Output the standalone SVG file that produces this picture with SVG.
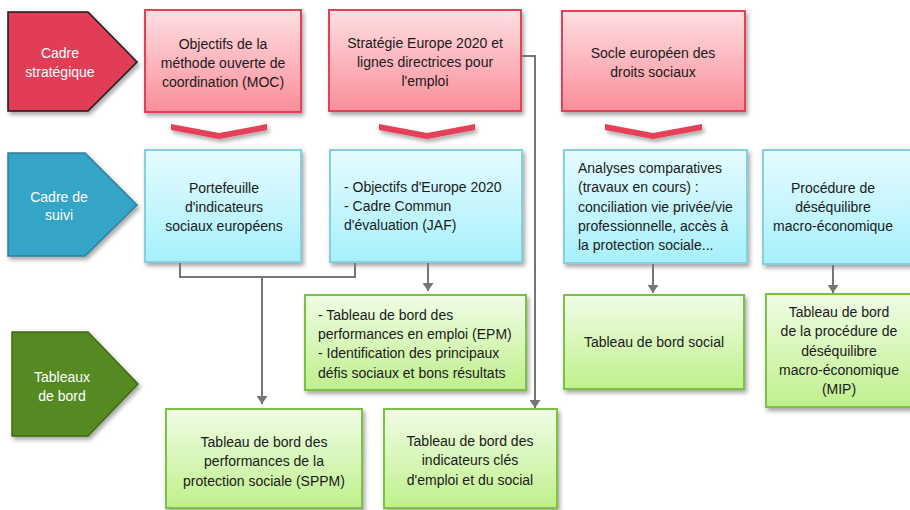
<svg xmlns="http://www.w3.org/2000/svg" width="910" height="510" viewBox="0 0 910 510">
<defs>
<linearGradient id="gRed" x1="0" y1="0" x2="0" y2="1"><stop offset="0" stop-color="#fedfe2"/><stop offset="1" stop-color="#f98e99"/></linearGradient>
<linearGradient id="gBlue" x1="0" y1="0" x2="0" y2="1"><stop offset="0" stop-color="#e6fcff"/><stop offset="1" stop-color="#a6f0fb"/></linearGradient>
<linearGradient id="gGreen" x1="0" y1="0" x2="0" y2="1"><stop offset="0" stop-color="#f0fde6"/><stop offset="1" stop-color="#bff08c"/></linearGradient>
<filter id="sh" x="-10%" y="-10%" width="130%" height="140%"><feDropShadow dx="2" dy="3" stdDeviation="2" flood-color="#000" flood-opacity="0.35"/></filter>
<marker id="arr" viewBox="0 0 8 11" refX="8" refY="5.5" markerWidth="8" markerHeight="11" markerUnits="userSpaceOnUse" orient="auto"><path d="M0,0 L8,5.5 L0,11 Z" fill="#767676"/></marker>
<style>
text{font-family:"Liberation Sans",Arial,sans-serif;font-size:14px;fill:#1a1a1a}
.c{text-anchor:middle}
.w{fill:#ffffff}
.red{fill:url(#gRed);stroke:#e63f58;stroke-width:2;filter:url(#sh)}
.blue{fill:url(#gBlue);stroke:#86cfe0;stroke-width:2;filter:url(#sh)}
.green{fill:url(#gGreen);stroke:#7cc242;stroke-width:2;filter:url(#sh)}
.chev{fill:#e63f58;filter:url(#sh)}
.con{fill:none;stroke:#767676;stroke-width:2}
</style>
</defs>

<g id="label-strategique">
<polygon points="8,12 88,12 137,62 88,111 8,111" fill="#e23c56" stroke="#1a1a1a" stroke-width="1.5" filter="url(#sh)"/>
<text class="c w" x="60" y="58">Cadre</text>
<text class="c w" x="60" y="77">stratégique</text>
</g>
<g id="label-suivi">
<polygon points="8,153 85,153 137,205 85,256 8,256" fill="#36a5c7" stroke="#2b7f99" stroke-width="1.5" filter="url(#sh)"/>
<text class="c w" x="59" y="202">Cadre de</text>
<text class="c w" x="59" y="220">suivi</text>
</g>
<g id="label-tableaux">
<polygon points="12,332 88,332 138,384 88,436 12,436" fill="#558a21" stroke="#3d6a13" stroke-width="1.5" filter="url(#sh)"/>
<text class="c w" x="62" y="382">Tableaux</text>
<text class="c w" x="62" y="401">de bord</text>
</g>

<g id="moc">
<rect class="red" x="145" y="10" width="156" height="102"/>
<text class="c" x="223" y="49">Objectifs de la</text>
<text class="c" x="223" y="68">méthode ouverte de</text>
<text class="c" x="223" y="87">coordination (MOC)</text>
</g>
<g id="europe2020">
<rect class="red" x="329" y="10" width="192" height="101"/>
<text class="c" x="425" y="48">Stratégie Europe 2020 et</text>
<text class="c" x="425" y="67">lignes directrices pour</text>
<text class="c" x="425" y="86">l'emploi</text>
</g>
<g id="socle">
<rect class="red" x="562" y="11" width="183" height="100"/>
<text class="c" x="653" y="58">Socle européen des</text>
<text class="c" x="653" y="77">droits sociaux</text>
</g>

<g id="chevrons">
<polygon class="chev" points="171,124 219,133 267,124 267,130 219,139 171,130"/>
<polygon class="chev" points="379,124 427,133 475,124 475,130 427,139 379,130"/>
<polygon class="chev" points="605,124 653,133 702,124 702,130 653,139 605,130"/>
</g>

<g id="portefeuille">
<rect class="blue" x="145" y="150" width="156" height="112"/>
<text class="c" x="224" y="193">Portefeuille</text>
<text class="c" x="224" y="212">d'indicateurs</text>
<text class="c" x="224" y="231">sociaux européens</text>
</g>
<g id="jaf">
<rect class="blue" x="330" y="150" width="192" height="112"/>
<text x="344" y="192">- Objectifs d'Europe 2020</text>
<text x="344" y="211">- Cadre Commun</text>
<text x="344" y="230">d'évaluation (JAF)</text>
</g>
<g id="analyses">
<rect class="blue" x="564" y="150" width="183" height="113"/>
<text x="578" y="173">Analyses comparatives</text>
<text x="578" y="192">(travaux en cours) :</text>
<text x="578" y="212">conciliation vie privée/vie</text>
<text x="578" y="231">professionnelle, accès à</text>
<text x="578" y="250">la protection sociale...</text>
</g>
<g id="procedure">
<rect class="blue" x="763" y="150" width="155" height="114"/>
<text class="c" x="833" y="193">Procédure de</text>
<text class="c" x="833" y="212">déséquilibre</text>
<text class="c" x="833" y="231">macro-économique</text>
</g>

<g id="epm">
<rect class="green" x="305" y="295" width="221" height="95"/>
<text x="318" y="320">- Tableau de bord des</text>
<text x="318" y="339">performances en emploi (EPM)</text>
<text x="318" y="358">- Identification des principaux</text>
<text x="318" y="378">défis sociaux et bons résultats</text>
</g>
<g id="social">
<rect class="green" x="564" y="295" width="180" height="94"/>
<text class="c" x="654" y="347">Tableau de bord social</text>
</g>
<g id="mip">
<rect class="green" x="766" y="294" width="152" height="113"/>
<text class="c" x="839" y="317">Tableau de bord</text>
<text class="c" x="839" y="336">de la procédure de</text>
<text class="c" x="839" y="356">déséquilibre</text>
<text class="c" x="839" y="375">macro-économique</text>
<text class="c" x="839" y="394">(MIP)</text>
</g>
<g id="sppm">
<rect class="green" x="166" y="409" width="196" height="99"/>
<text class="c" x="264" y="447">Tableau de bord des</text>
<text class="c" x="264" y="466">performances de la</text>
<text class="c" x="264" y="486">protection sociale (SPPM)</text>
</g>
<g id="cles">
<rect class="green" x="384" y="409" width="173" height="99"/>
<text class="c" x="470" y="446">Tableau de bord des</text>
<text class="c" x="470" y="465">indicateurs clés</text>
<text class="c" x="470" y="485">d'emploi et du social</text>
</g>

<g id="connectors">
<polyline class="con" points="180,263 180,277 355,277 355,263"/>
<line class="con" x1="262" y1="277" x2="262" y2="404" marker-end="url(#arr)"/>
<line class="con" x1="428" y1="263" x2="428" y2="291" marker-end="url(#arr)"/>
<polyline class="con" points="522,56 535,56 535,408" marker-end="url(#arr)"/>
<line class="con" x1="653" y1="264" x2="653" y2="293" marker-end="url(#arr)"/>
<line class="con" x1="833" y1="265" x2="833" y2="293" marker-end="url(#arr)"/>
</g>
</svg>
